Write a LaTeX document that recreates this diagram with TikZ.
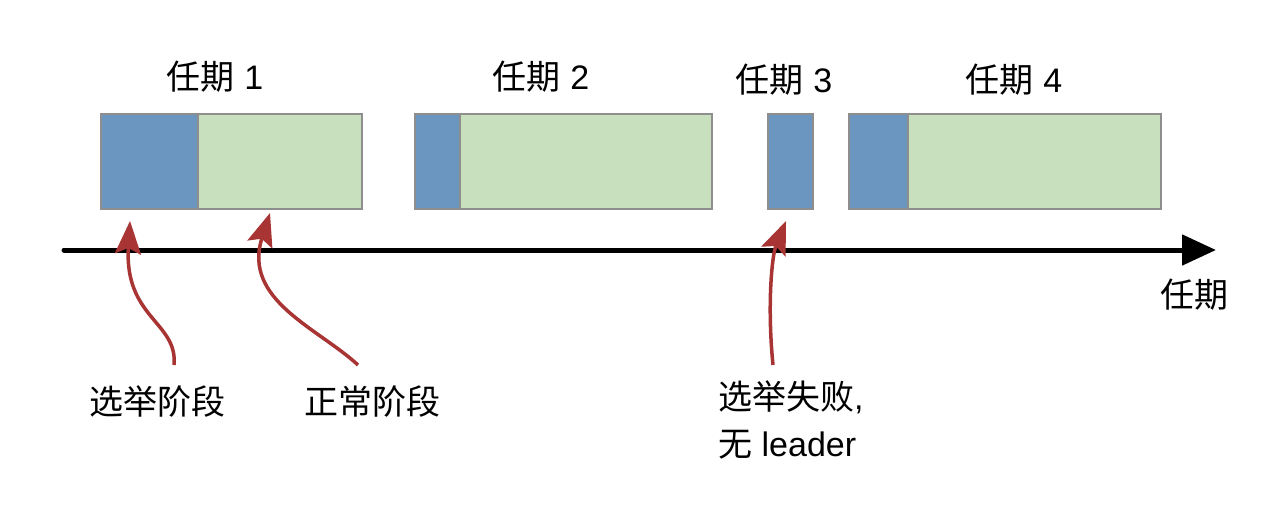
\documentclass[tikz,border=0pt]{standalone}
\usepackage{fontspec}
\setmainfont{Liberation Sans}
\newfontfamily\cjk{Noto Sans CJK SC}
\usetikzlibrary{arrows.meta}
\definecolor{blu}{HTML}{6B96BF}
\definecolor{grn}{HTML}{C8E0BD}
\definecolor{edg}{HTML}{8E8E8E}
\definecolor{red}{HTML}{A83434}
\tikzset{
  seg/.style={draw=edg, line width=1.6pt, inner sep=0pt, outer sep=0pt, anchor=north west, minimum height=95pt},
  elect/.style={seg, fill=blu},
  normal/.style={seg, fill=grn},
  lbl/.style={font=\fontsize{34pt}{40pt}\selectfont, inner sep=0pt},
  pointer/.style={draw=red, line width=3.5pt, -{Stealth[length=33pt,width=26pt,inset=6pt]}},
  axis/.style={line width=5pt, line cap=round, -{Triangle[length=34pt,width=30pt]}}
}
\begin{document}
\begin{tikzpicture}[x=1pt,y=-1pt]
\useasboundingbox (0,0) rectangle (1286,506);
% term 1
\node[normal, minimum width=164pt] (g1) at (198,114) {};
\node[elect, minimum width=97pt] (e1) at (101,114) {};
% term 2
\node[normal, minimum width=252pt] (g2) at (460,114) {};
\node[elect, minimum width=45pt] (e2) at (415,114) {};
% term 3
\node[elect, minimum width=45pt] (e3) at (768,114) {};
% term 4
\node[normal, minimum width=253pt] (g4) at (908,114) {};
\node[elect, minimum width=59pt] (e4) at (849,114) {};
% titles
\node[lbl] (t1) at (215,77) {{\cjk 任期} 1};
\node[lbl] (t2) at (541,77) {{\cjk 任期} 2};
\node[lbl] (t3) at (784,80) {{\cjk 任期} 3};
\node[lbl] (t4) at (1014,80) {{\cjk 任期} 4};
% axis
\coordinate (a0) at (64,250);
\coordinate (a1) at (1216,250);
\draw[axis] (a0) -- (a1);
\node[lbl] (ax) at (1194,295) {\cjk 任期};
% bottom labels
\node[lbl] (l1) at (157,402) {\cjk 选举阶段};
\node[lbl] (l2) at (372,402) {\cjk 正常阶段};
\node[lbl, align=left, anchor=north west, font=\fontsize{34pt}{47pt}\selectfont] (l3) at (718,381) {{\cjk 选举失败},\\{\cjk 无} leader};
% pointers
\coordinate (s1) at (174,365); \coordinate (p1) at (130,221);
\coordinate (s2) at (358,365); \coordinate (p2) at (270,213);
\coordinate (s3) at (773,365); \coordinate (p3) at (786,221);
\draw[pointer] (s1) .. controls (178,322) and (124,318) .. (p1);
\draw[pointer] (s2) .. controls (318,328) and (242,300) .. (p2);
\draw[pointer] (s3) .. controls (767,305) and (772,255) .. (p3);
\end{tikzpicture}
\end{document}
